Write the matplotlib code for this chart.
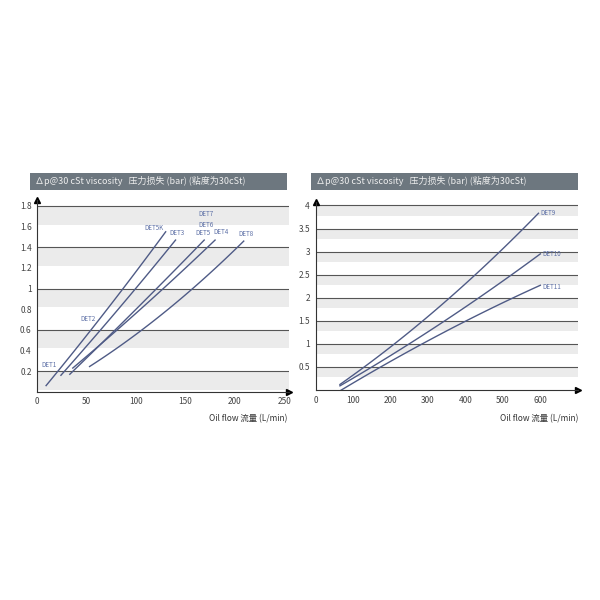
import matplotlib
matplotlib.use("Agg")
import matplotlib.pyplot as plt
import numpy as np
plt.rcParams['font.family'] = ['Noto Sans CJK SC', 'DejaVu Sans']

title = "∆p@30 cSt viscosity   压力损失 (bar) (粘度为30cSt)"
xlabel = "Oil flow 流量 (L/min)"

left_names = ["DET5K", "DET3", "DET5", "DET4", "DET8"]
left_x = [[9, 70, 130], [24, 82, 140], [33, 100, 169], [36, 108, 180], [53, 130, 209]]
left_y = [[0.06, 0.79, 1.55], [0.16, 0.80, 1.47], [0.17, 0.80, 1.47], [0.23, 0.83, 1.47], [0.245, 0.78, 1.46]]
left_label_pos = [(128, 1.55, "right"), (134, 1.50, "left"), (175, 1.50, "right"), (178, 1.51, "left"), (204, 1.49, "left")]
left_extra_labels = [("DET7", 163, 1.68), ("DET6", 163, 1.58), ("DET1", 4, 0.22), ("DET2", 44, 0.67)]

right_names = ["DET9", "DET10", "DET11"]
right_x = [[65, 209, 595], [65, 248, 600], [65, 212, 372, 600]]
right_y = [[0.12, 0.99, 3.83], [0.09, 0.99, 2.95], [0.04, 0.52, 1.5, 2.24]]

lc = "#4f5b86"
tc = "#5b6ea5"
fig = plt.figure(figsize=(6, 6), dpi=100)

def style(ax, xlim, ylim, lines, band, xticks, yticks, ylabels):
    ax.set_xlim(*xlim); ax.set_ylim(*ylim)
    for y in lines:
        ax.axhspan(y - band, y, color="#ebebeb", lw=0, zorder=0)
        ax.axhline(y, color="#555555", lw=0.8, zorder=1)
    for s in ["top", "right"]:
        ax.spines[s].set_visible(False)
    for s in ["left", "bottom"]:
        ax.spines[s].set_color("#333333"); ax.spines[s].set_linewidth(0.8)
    ax.set_xticks(xticks); ax.set_xticklabels([str(t) for t in xticks], fontsize=6, color="#444444")
    ax.set_yticks(yticks); ax.set_yticklabels(ylabels, fontsize=6, color="#444444")
    ax.tick_params(length=0, pad=4)
    ax.plot(1, 0, ">k", transform=ax.transAxes, clip_on=False, ms=4)
    ax.plot(0, 1, "^k", transform=ax.transAxes, clip_on=False, ms=4)

axL = fig.add_axes([0.062, 0.347, 0.42, 0.32])
style(axL, (0, 255), (0, 1.86), [0.2, 0.6, 1.0, 1.4, 1.8], 0.18,
      [0, 50, 100, 150, 200, 250],
      [0.2, 0.4, 0.6, 0.8, 1, 1.2, 1.4, 1.6, 1.8],
      ["0.2", "0.4", "0.6", "0.8", "1", "1.2", "1.4", "1.6", "1.8"])
for n, xs, ys, (lx, ly, ha) in zip(left_names, left_x, left_y, left_label_pos):
    c = np.polyfit(xs, ys, 2); xx = np.linspace(xs[0], xs[-1], 60)
    axL.plot(xx, np.polyval(c, xx), color=lc, lw=1, zorder=3)
    axL.text(lx, ly, n, fontsize=4.5, color=tc, ha=ha, va="bottom")
for n, x, y in left_extra_labels:
    axL.text(x, y, n, fontsize=4.5, color=tc, va="bottom")

axR = fig.add_axes([0.526, 0.35, 0.437, 0.313])
style(axR, (0, 700), (0, 4.07), [0.5, 1, 1.5, 2, 2.5, 3, 3.5, 4], 0.22,
      [0, 100, 200, 300, 400, 500, 600],
      [0.5, 1, 1.5, 2, 2.5, 3, 3.5, 4],
      ["0.5", "1", "1.5", "2", "2.5", "3", "3.5", "4"])
for n, xs, ys in zip(right_names, right_x, right_y):
    c = np.polyfit(xs, ys, 2); xx = np.linspace(xs[0], xs[-1], 60)
    axR.plot(xx, np.polyval(c, xx), color=lc, lw=1, zorder=3)
    axR.text(xs[-1] + 5, ys[-1], n, fontsize=4.5, color=tc, va="center")

for x0, w in [(30, 257), (311, 267)]:
    bar = fig.add_axes([x0 / 600, 1 - 190 / 600, w / 600, 17 / 600])
    bar.set_facecolor("#6d777f"); bar.set_xticks([]); bar.set_yticks([])
    for s in bar.spines.values(): s.set_visible(False)
    bar.text(0.02, 0.5, title, color="#eeeeee", fontsize=6.5, va="center", transform=bar.transAxes)

fig.text(287 / 600, 1 - 419 / 600, xlabel, fontsize=6, ha="right", va="center", color="#333333")
fig.text(578 / 600, 1 - 419 / 600, xlabel, fontsize=6, ha="right", va="center", color="#333333")
fig.savefig("out.png", dpi=100)
